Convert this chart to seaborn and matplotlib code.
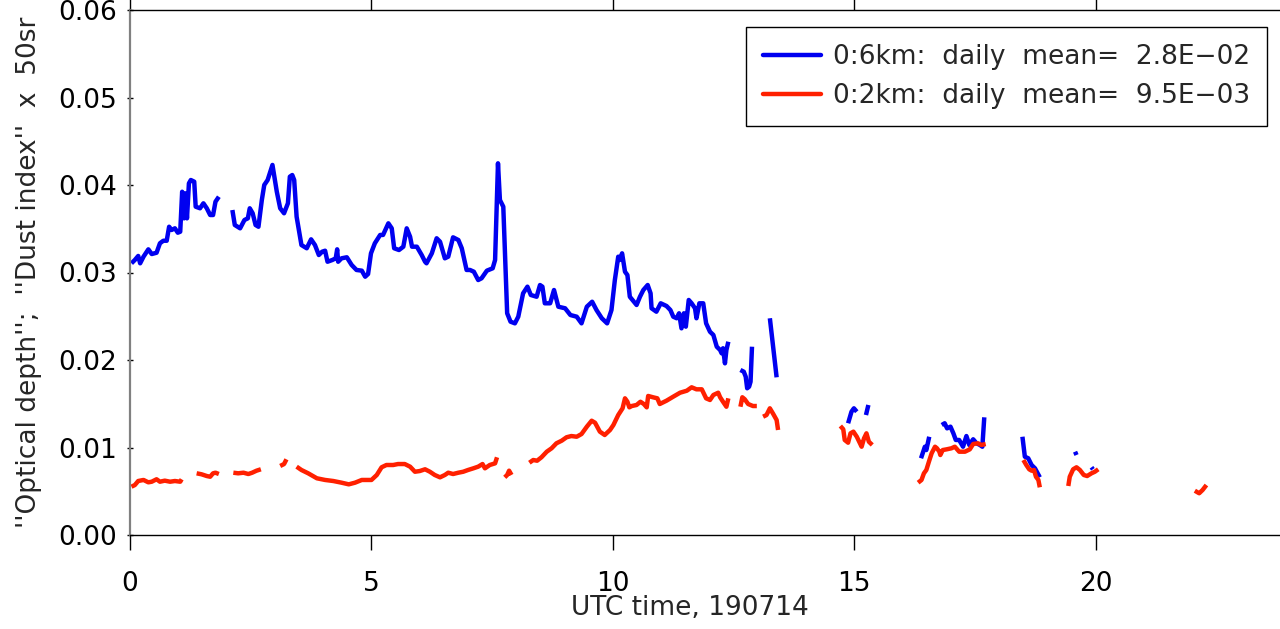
import numpy as np
import pandas as pd
import matplotlib
matplotlib.use("Agg")
import matplotlib.pyplot as plt
import seaborn as sns
from matplotlib.lines import Line2D

N = None
# UTC hour / value, None marks gaps in the record
blue_t = [0.03, 0.10, 0.17, 0.21, 0.28, 0.38, 0.45, 0.55, 0.62, 0.69, 0.76, 0.81, 0.86, 0.93, 0.99, 1.04, 1.08, 1.12, 1.15, 1.18, 1.22, 1.26, 1.33, 1.36, 1.45, 1.52, 1.59, 1.66, 1.72, 1.77, 1.84, N,
          2.12, 2.17, 2.28, 2.37, 2.44, 2.48, 2.54, 2.60, 2.66, 2.73, 2.78, 2.85, 2.95, 3.04, 3.11, 3.19, 3.27, 3.31, 3.36, 3.40, 3.45, 3.55, 3.66, 3.75, 3.83, 3.91, 3.98, 4.04, 4.09, 4.19, 4.26, 4.29, 4.31, 4.38, 4.49, 4.59, 4.69, 4.80, 4.87, 4.93, 4.99, 5.07, 5.18, 5.24, 5.35, 5.42, 5.47, 5.57, 5.66, 5.73, 5.80, 5.84, 5.94, 6.04, 6.11, 6.14, 6.25, 6.35, 6.42, 6.52, 6.59, 6.69, 6.80, 6.87, 6.97, 7.04, 7.12, 7.21, 7.28, 7.39, 7.51, 7.56, 7.62, 7.66, 7.73, 7.81, 7.88, 7.97, 8.04, 8.14, 8.23, 8.30, 8.42, 8.49, 8.54, 8.59, 8.70, 8.78, 8.87, 9.01, 9.12, 9.25, 9.35, 9.46, 9.57, 9.66, 9.77, 9.88, 9.97, 10.04, 10.11, 10.14, 10.19, 10.25, 10.30, 10.35, 10.49, 10.56, 10.63, 10.72, 10.78, 10.80, 10.90, 10.99, 11.11, 11.19, 11.25, 11.32, 11.37, 11.42, 11.47, 11.51, 11.57, 11.63, 11.70, 11.73, 11.79, 11.87, 11.93, 12.01, 12.08, 12.15, 12.22, 12.25, 12.28, 12.32, 12.35, 12.39, N,
          12.64, 12.71, 12.75, 12.78, 12.82, 12.85, 12.88, N,
          13.25, 13.39, N,
          14.87, 14.94, 14.99, 15.05, N,
          15.24, 15.29, N,
          16.38, 16.46, 16.49, 16.55, N,
          16.81, 16.87, 16.92, 16.99, 17.05, 17.10, 17.17, 17.25, 17.32, 17.38, 17.46, 17.53, 17.60, 17.65, 17.69, N,
          18.48, 18.53, 18.60, 18.67, 18.74, 18.84, N,
          19.57, 19.60, N,
          19.91, 19.94]
blue_v = [0.03105, 0.03143, 0.03189, 0.03105, 0.03181, 0.03265, 0.03211, 0.03226, 0.03334, 0.03363, 0.03363, 0.03523, 0.03486, 0.03505, 0.03455, 0.03466, 0.03923, 0.03619, 0.03905, 0.03619, 0.04019, 0.04057, 0.04038, 0.03752, 0.03734, 0.03791, 0.03734, 0.03657, 0.03657, 0.03809, 0.03866, N,
          0.03714, 0.03543, 0.03505, 0.03600, 0.03619, 0.03734, 0.03677, 0.03543, 0.03523, 0.03829, 0.04000, 0.04057, 0.04229, 0.03923, 0.03734, 0.03677, 0.03791, 0.04095, 0.04114, 0.04057, 0.03638, 0.03314, 0.03277, 0.03379, 0.03314, 0.03200, 0.03238, 0.03249, 0.03123, 0.03143, 0.03162, 0.03265, 0.03123, 0.03162, 0.03174, 0.03086, 0.03029, 0.03021, 0.02952, 0.02983, 0.03219, 0.03334, 0.03429, 0.03429, 0.03562, 0.03505, 0.03277, 0.03257, 0.03295, 0.03505, 0.03409, 0.03295, 0.03295, 0.03200, 0.03123, 0.03105, 0.03219, 0.03391, 0.03352, 0.03162, 0.03181, 0.03402, 0.03371, 0.03277, 0.03029, 0.03029, 0.03009, 0.02914, 0.02934, 0.03021, 0.03048, 0.03143, 0.04248, 0.03829, 0.03752, 0.02534, 0.02438, 0.02419, 0.02495, 0.02762, 0.02838, 0.02743, 0.02723, 0.02857, 0.02838, 0.02648, 0.02648, 0.02800, 0.02609, 0.02591, 0.02514, 0.02495, 0.02419, 0.02609, 0.02666, 0.02571, 0.02477, 0.02419, 0.02571, 0.02914, 0.03181, 0.03143, 0.03219, 0.03009, 0.02971, 0.02723, 0.02629, 0.02723, 0.02800, 0.02857, 0.02762, 0.02591, 0.02552, 0.02648, 0.02617, 0.02571, 0.02495, 0.02477, 0.02534, 0.02362, 0.02534, 0.02381, 0.02686, 0.02648, 0.02591, 0.02477, 0.02648, 0.02648, 0.02419, 0.02323, 0.02286, 0.02152, 0.02114, 0.02077, 0.02134, 0.01962, 0.02114, 0.02209, N,
          0.01886, 0.01866, 0.01809, 0.01677, 0.01695, 0.01752, 0.02152, N,
          0.02477, 0.01802, N,
          0.01277, 0.01409, 0.01448, 0.01409, N,
          0.01371, 0.01486, N,
          0.00877, 0.01009, 0.00971, 0.01123, N,
          0.01257, 0.01277, 0.01219, 0.01238, 0.01162, 0.01086, 0.01086, 0.01009, 0.01131, 0.01029, 0.01094, 0.01048, 0.01029, 0.01009, 0.01345, N,
          0.01123, 0.00895, 0.00877, 0.00800, 0.00762, 0.00659, N,
          0.00952, 0.00914, N,
          0.00774, 0.00751]

red_t = [0.03, 0.10, 0.17, 0.28, 0.38, 0.45, 0.55, 0.62, 0.72, 0.83, 0.93, 1.04, 1.07, N,
         1.38, 1.48, 1.59, 1.66, 1.72, 1.77, 1.84, N,
         2.14, 2.24, 2.35, 2.45, 2.53, 2.62, 2.71, N,
         3.11, 3.19, 3.24, N,
         3.45, 3.55, 3.69, 3.87, 4.04, 4.21, 4.38, 4.53, 4.66, 4.80, 5.00, 5.11, 5.21, 5.31, 5.45, 5.55, 5.69, 5.80, 5.90, 6.00, 6.11, 6.21, 6.31, 6.42, 6.52, 6.59, 6.69, 6.80, 6.90, 7.00, 7.11, 7.21, 7.30, 7.35, 7.45, 7.56, 7.60, N,
         7.76, 7.81, 7.85, 7.90, N,
         8.27, 8.35, 8.43, 8.52, 8.63, 8.73, 8.83, 8.94, 9.04, 9.14, 9.25, 9.35, 9.46, 9.56, 9.63, 9.73, 9.83, 9.94, 10.01, 10.11, 10.20, 10.25, 10.30, 10.34, 10.39, 10.49, 10.57, 10.64, 10.70, 10.73, 10.83, 10.92, 10.97, 11.11, 11.25, 11.39, 11.53, 11.63, 11.73, 11.84, 11.93, 12.01, 12.08, 12.18, 12.22, 12.28, 12.35, 12.39, N,
         12.64, 12.68, 12.73, 12.80, 12.90, 12.98, N,
         13.11, 13.18, 13.25, 13.32, 13.39, 13.42, N,
         14.71, 14.77, 14.80, 14.87, 14.92, 14.98, 15.05, 15.10, 15.15, 15.20, 15.25, 15.30, 15.37, N,
         16.32, 16.39, 16.44, 16.49, 16.55, 16.60, 16.67, 16.71, 16.76, 16.78, 16.83, 16.91, 17.01, 17.08, 17.17, 17.29, 17.39, 17.46, 17.56, 17.63, 17.72, N,
         18.50, 18.56, 18.62, 18.67, 18.72, 18.76, 18.81, 18.84, N,
         19.43, 19.46, 19.53, 19.60, 19.67, 19.75, 19.82, 19.91, 19.98, 20.05, N,
         22.05, 22.14, 22.21, 22.29]
red_v = [0.00552, 0.00571, 0.00617, 0.00629, 0.00602, 0.00609, 0.00637, 0.00609, 0.00621, 0.00609, 0.00617, 0.00609, 0.00637, N,
         0.00705, 0.00694, 0.00674, 0.00666, 0.00705, 0.00712, 0.00697, N,
         0.00712, 0.00705, 0.00712, 0.00697, 0.00712, 0.00735, 0.00751, N,
         0.00789, 0.00811, 0.00865, N,
         0.00781, 0.00743, 0.00705, 0.00648, 0.00629, 0.00617, 0.00598, 0.00579, 0.00598, 0.00629, 0.00629, 0.00686, 0.00774, 0.00800, 0.00800, 0.00811, 0.00811, 0.00781, 0.00723, 0.00731, 0.00751, 0.00723, 0.00686, 0.00659, 0.00686, 0.00712, 0.00697, 0.00712, 0.00723, 0.00743, 0.00762, 0.00781, 0.00811, 0.00762, 0.00800, 0.00819, 0.00888, N,
         0.00659, 0.00686, 0.00735, 0.00686, N,
         0.00826, 0.00857, 0.00849, 0.00888, 0.00952, 0.00991, 0.01048, 0.01078, 0.01117, 0.01131, 0.01123, 0.01154, 0.01238, 0.01306, 0.01283, 0.01181, 0.01143, 0.01200, 0.01257, 0.01371, 0.01448, 0.01562, 0.01523, 0.01459, 0.01474, 0.01486, 0.01523, 0.01497, 0.01459, 0.01589, 0.01574, 0.01562, 0.01497, 0.01535, 0.01581, 0.01626, 0.01649, 0.01688, 0.01665, 0.01665, 0.01562, 0.01543, 0.01600, 0.01626, 0.01574, 0.01523, 0.01466, 0.01562, N,
         0.01466, 0.01574, 0.01551, 0.01497, 0.01474, 0.01474, N,
         0.01352, 0.01371, 0.01448, 0.01383, 0.01314, 0.01200, N,
         0.01246, 0.01208, 0.01086, 0.01055, 0.01162, 0.01181, 0.01123, 0.01066, 0.01009, 0.01105, 0.01162, 0.01066, 0.01029, N,
         0.00598, 0.00629, 0.00705, 0.00743, 0.00849, 0.00934, 0.01009, 0.00991, 0.00952, 0.00914, 0.00971, 0.00979, 0.00991, 0.01009, 0.00952, 0.00952, 0.00979, 0.01040, 0.01048, 0.01029, 0.01040, N,
         0.00857, 0.00800, 0.00751, 0.00735, 0.00743, 0.00666, 0.00629, 0.00545, N,
         0.00560, 0.00666, 0.00751, 0.00774, 0.00743, 0.00686, 0.00674, 0.00705, 0.00723, 0.00751, N,
         0.00506, 0.00477, 0.00514, 0.00571]

series_names = ["0:6km", "0:2km"]
daily_means = ["2.8E\u221202", "9.5E\u221203"]
series_colors = ["#0000f0", "#ff2000"]
x_ticks = [0, 5, 10, 15, 20]
y_ticks = [0.00, 0.01, 0.02, 0.03, 0.04, 0.05, 0.06]
x_label = "UTC time, 190714"
y_label = "''Optical depth'';  ''Dust index''  x  50sr"


def to_rows(name, ts, vs):
    assert len(ts) == len(vs), (name, len(ts), len(vs))
    rows, seg = [], 0
    for t, v in zip(ts, vs):
        if t is None:
            seg += 1
            continue
        rows.append((name, f"{name}-{seg}", t, v))
    return rows


rows = to_rows(series_names[0], blue_t, blue_v) + to_rows(series_names[1], red_t, red_v)
df = pd.DataFrame(rows, columns=["series", "seg", "t", "v"])

sns.set_style("ticks")
plt.rcParams["font.family"] = ["DejaVu Sans"]

fig = plt.figure(figsize=(12.8, 6.29), dpi=100)
ax = fig.add_axes([130 / 1280, 94 / 629, 1159 / 1280, 525 / 629])

palette = dict(zip(series_names, series_colors))
sns.lineplot(data=df, x="t", y="v", hue="series", units="seg", estimator=None,
             sort=False, palette=palette, linewidth=3.2, legend=False, ax=ax,
             solid_capstyle="butt", solid_joinstyle="round")

ax.set_xlim(0, 24)
ax.set_ylim(0, 0.06)
ax.set_xticks(x_ticks)
ax.set_xticklabels([str(x) for x in x_ticks])
ax.set_yticks(y_ticks)
ax.set_yticklabels([f"{y:.2f}" for y in y_ticks])
ax.tick_params(axis="x", direction="out", length=11, width=1, pad=15,
               labelsize=19, top=True, colors="black")
ax.tick_params(axis="y", direction="inout", length=5, width=1, pad=7,
               labelsize=19, colors="black")
for s in ["top", "bottom"]:
    ax.spines[s].set_color("black")
    ax.spines[s].set_linewidth(1)
ax.spines["left"].set_color("#808080")
ax.spines["left"].set_linewidth(1.6)
ax.spines["right"].set_visible(False)

ax.set_xlabel(x_label, fontsize=19)
ax.xaxis.set_label_coords(0.483, -0.115)
ax.set_ylabel(y_label, fontsize=19)
ax.yaxis.set_label_coords(-0.076, 0.5)

handles = [Line2D([0], [0], color=c, lw=3.2) for c in series_colors]
labels = [f"{n}:  daily  mean=  {m}" for n, m in zip(series_names, daily_means)]
leg = ax.legend(handles, labels, loc="upper right", bbox_to_anchor=(0.981, 0.968),
                borderaxespad=0, frameon=True, fancybox=False, framealpha=1,
                edgecolor="black", fontsize=19, handlelength=2.2, handletextpad=0.45,
                borderpad=0.65, labelspacing=0.5)
leg.get_frame().set_linewidth(1)

fig.savefig("out.png", dpi=100)
